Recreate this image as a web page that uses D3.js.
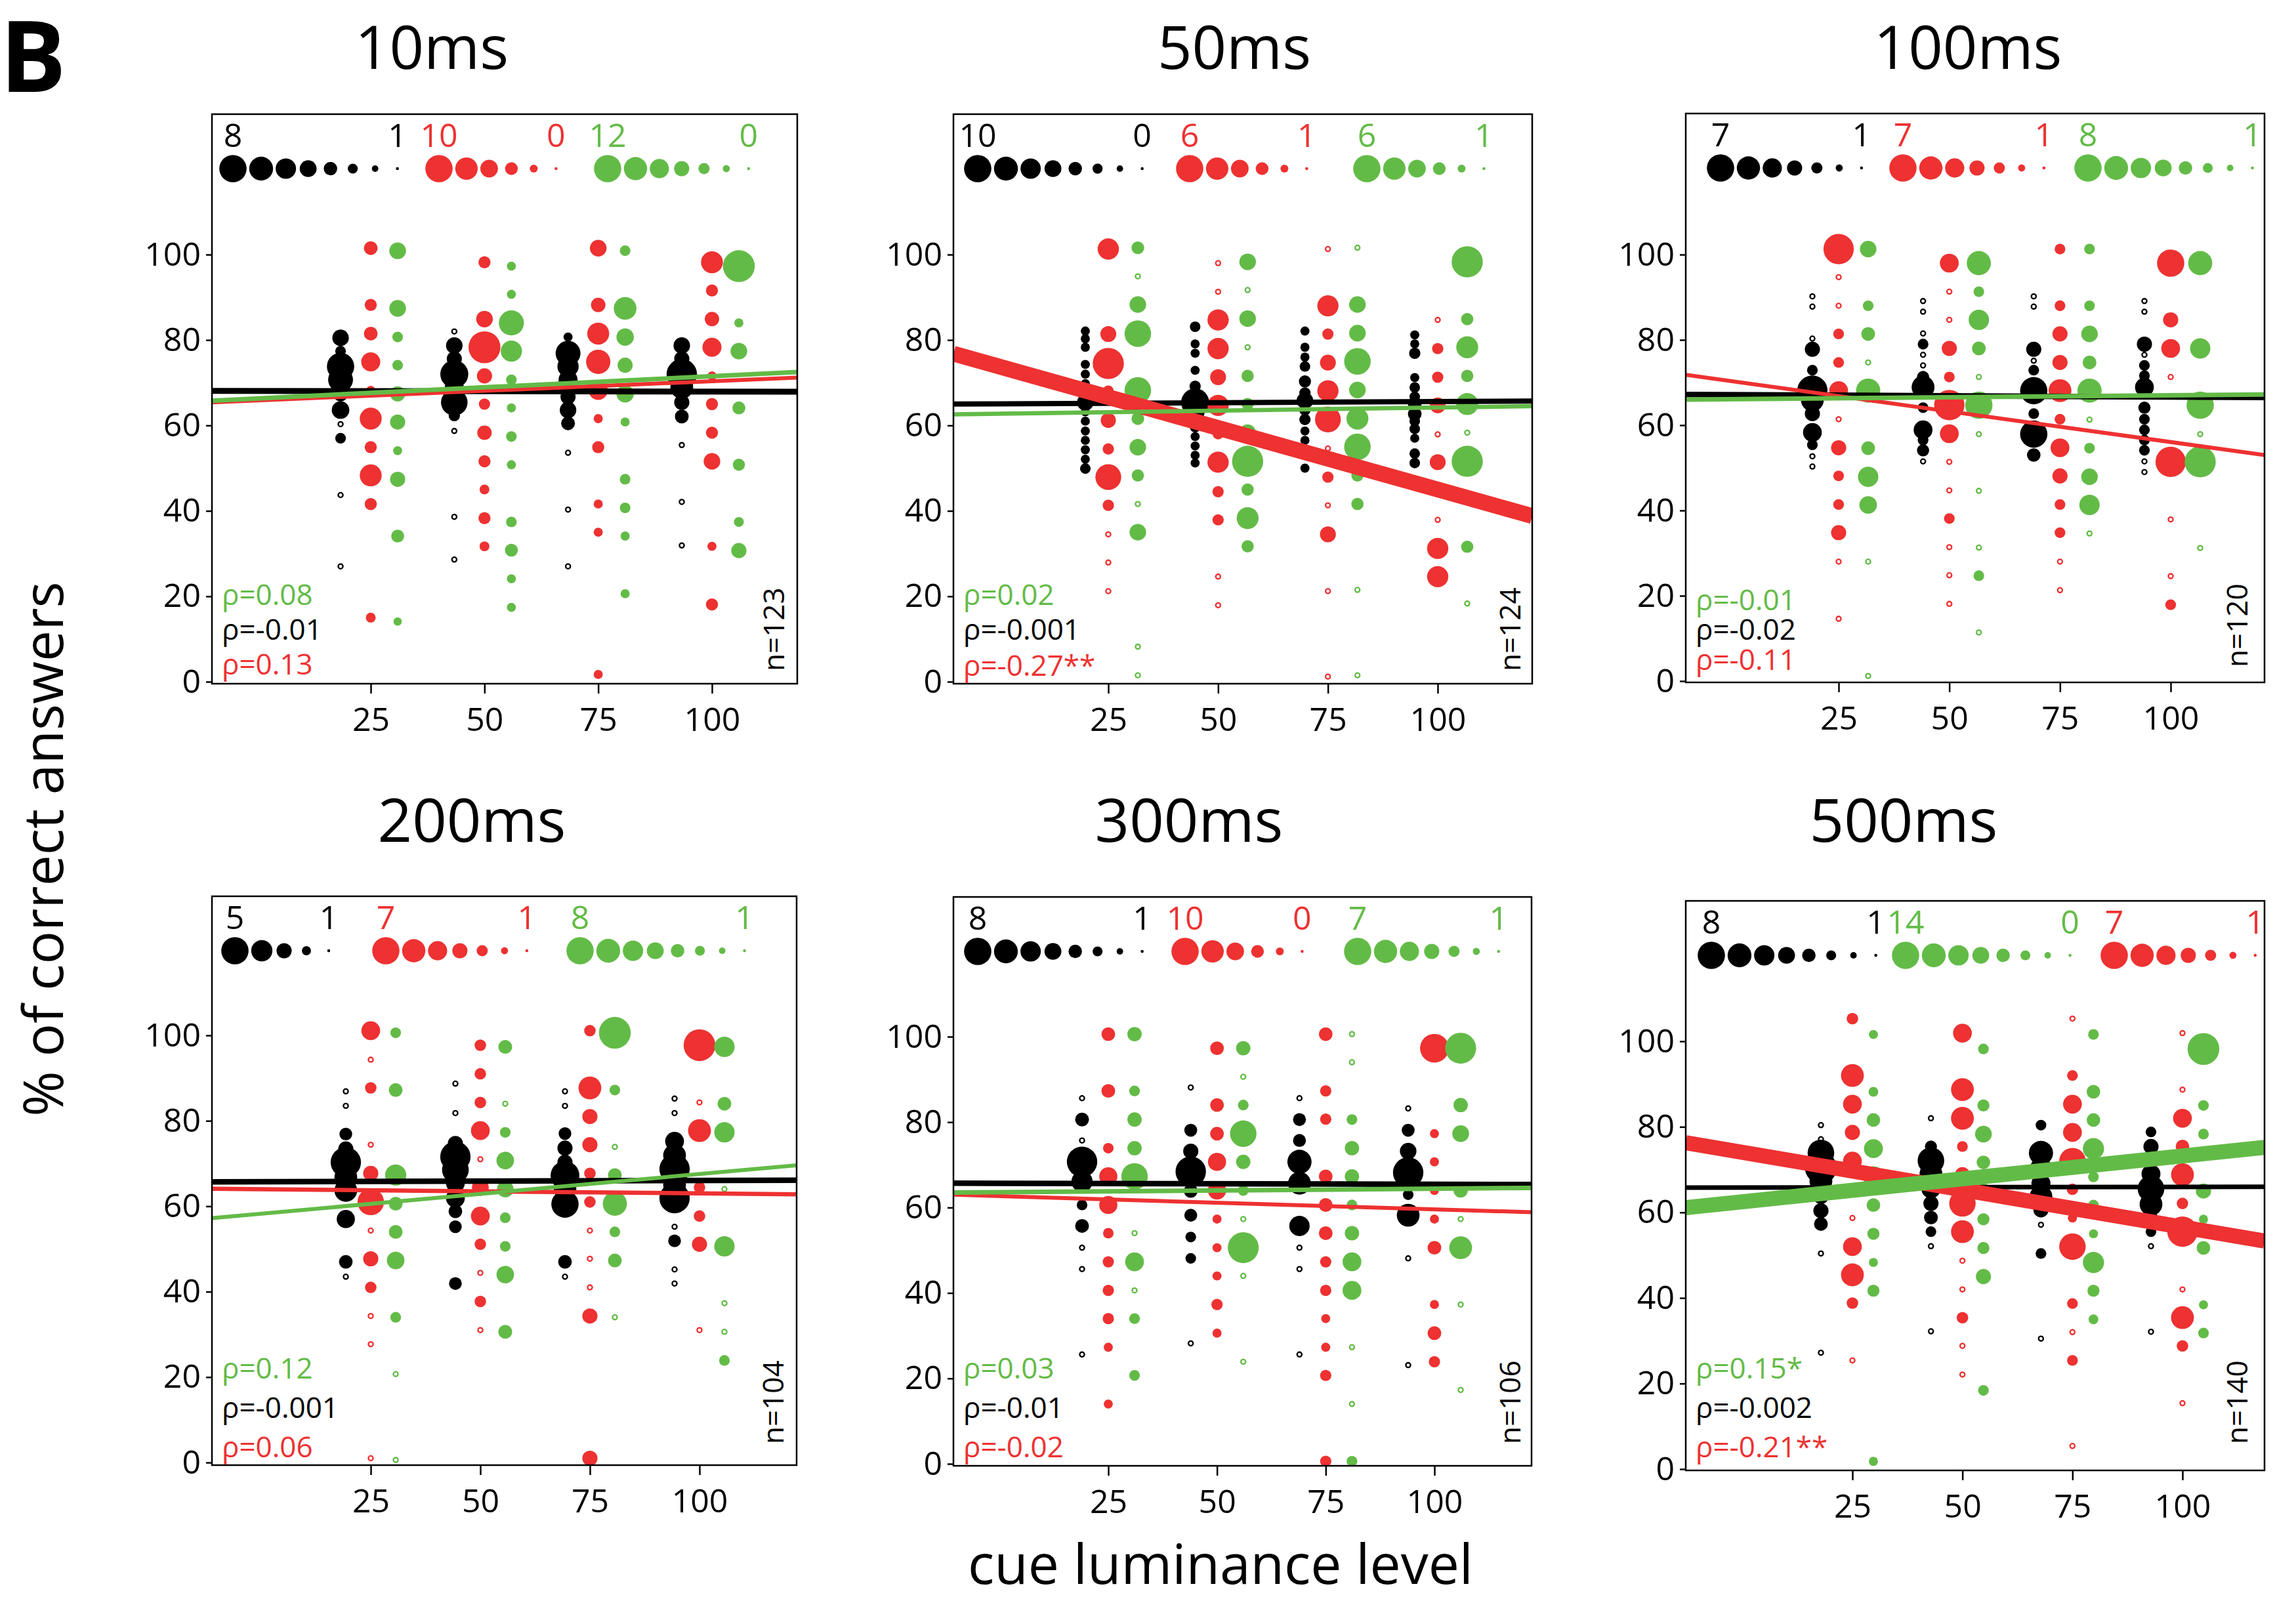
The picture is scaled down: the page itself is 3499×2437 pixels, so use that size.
<!DOCTYPE html>
<html>
<head>
<meta charset="utf-8">
<script src="https://cdn.jsdelivr.net/npm/d3@7"></script>
<style>
  body { margin: 0; background: #fff; }
  svg { display: block; }
  text { font-family: "Open Sans", sans-serif; }
</style>
</head>
<body>
<div id="chart"></div>
<script>
// ---- data ----
const durations = ["10ms", "50ms", "100ms", "200ms", "300ms", "500ms"];
const nSubjects = [123, 124, 120, 104, 106, 140];
const rhoGreen = ["ρ=0.08", "ρ=0.02", "ρ=-0.01", "ρ=0.12", "ρ=0.03", "ρ=0.15*"];
const rhoBlack = ["ρ=-0.01", "ρ=-0.001", "ρ=-0.02", "ρ=-0.001", "ρ=-0.01", "ρ=-0.002"];
const rhoRed = ["ρ=0.13", "ρ=-0.27**", "ρ=-0.11", "ρ=0.06", "ρ=-0.02", "ρ=-0.21**"];

const lumLevels = [25, 50, 75, 100];
const yTicks = [0, 20, 40, 60, 80, 100];

// bubble legends (max -> min)
const legendBlack = [
  [8, 7, 6, 5, 4, 3, 2, 1],
  [10, 8.6, 7.1, 5.7, 4.3, 2.9, 1.4, 0],
  [7, 6, 5, 4, 3, 2, 1],
  [5, 4, 3, 2, 1],
  [8, 7, 6, 5, 4, 3, 2, 1],
  [8, 7, 6, 5, 4, 3, 2, 1]
];
const legendRed = [
  [10, 8, 6, 4, 2, 0],
  [6, 5, 4, 3, 2, 1],
  [7, 6, 5, 4, 3, 2, 1],
  [7, 6, 5, 4, 3, 2, 1],
  [10, 8, 6, 4, 2, 0],
  [7, 6, 5, 4, 3, 2, 1]
];
const legendGreen = [
  [12, 10, 8, 6, 4, 2, 0],
  [6, 5, 4, 3, 2, 1],
  [8, 7, 6, 5, 4, 3, 2, 1],
  [8, 7, 6, 5, 4, 3, 2, 1],
  [7, 6, 5, 4, 3, 2, 1],
  [14, 12, 10, 8, 6, 4, 2, 0]
];

// regression lines: % correct at left and right edge of the box
const lineBlack = [[68.1, 67.9], [65.0, 65.7], [67.2, 66.5], [65.7, 66.1], [65.7, 65.4], [65.8, 66.0]];
const lineRed = [[65.4, 71.2], [76.8, 38.8], [71.8, 53.0], [64.1, 62.8], [63.0, 58.9], [76.3, 53.3]];
const lineGreen = [[65.8, 72.5], [62.6, 64.5], [66.0, 67.2], [57.2, 69.6], [63.5, 64.6], [61.1, 75.2]];

// points: [% correct, size in legend units]; null size = open ring
const blackPts = [
  [
    [[80.5,4.9],[77.4,3.2],[73.8,8],[70.7,7.3],[67.2,4.1],[63.6,5.2],[60.3,null],[57.0,3.2],[43.7,null],[27.0,null]],
    [[82.0,null],[78.7,4.9],[75.6,4.5],[72.0,8.2],[68.9,5.6],[65.4,7.8],[62.3,3.4],[58.7,null],[38.6,null],[28.6,null]],
    [[80.7,2.75],[76.9,7.3],[73.8,6.25],[70.7,5.6],[66.7,4.5],[63.6,4.9],[60.5,4.1],[53.6,null],[40.3,null],[27.0,null]],
    [[78.7,4.9],[75.6,4.5],[72.0,8.9],[68.9,6.7],[65.4,4.5],[62.1,4.1],[55.4,null],[42.1,null],[31.9,null]]
  ],
  [
    [[82.1,2.5],[80.3,2.5],[78.3,2.5],[74.3,2.5],[72.0,2.5],[69.8,2.5],[67.6,2.5],[65.4,5.6],[63.2,2.5],[61.0,2.5],[58.7,2.5],[56.5,2.5],[54.3,2.5],[52.1,2.5],[49.9,3.1]],
    [[83.1,3.1],[79.1,2.5],[76.9,2.5],[72.9,2.5],[69.2,3.4],[65.4,10.3],[63.2,6.6],[59.6,3.1],[57.4,2.5],[55.2,2.5],[53.0,2.5],[51.2,2.5]],
    [[82.1,2.5],[78.3,2.5],[76.0,2.5],[73.8,3.1],[70.3,3.75],[67.6,3.4],[65.8,5.6],[63.6,3.4],[61.4,3.4],[58.7,2.5],[56.5,2.5],[54.3,2.5],[50.0,2.5]],
    [[81.2,2.5],[79.1,2.5],[76.9,3.4],[71.2,2.5],[68.9,3.1],[66.7,3.1],[65.0,4.4],[62.7,4.4],[61.0,3.1],[59.2,3.1],[57.0,2.5],[53.4,3.1],[51.2,3.1]]
  ],
  [
    [[90.2,null],[87.8,null],[80.3,null],[77.8,4],[72.9,2.9],[68.1,7.75],[65.9,5.9],[62.7,4],[58.3,4.9],[55.4,2.9],[52.7,null],[50.3,null]],
    [[89.1,null],[86.6,null],[81.5,null],[79.0,2.9],[76.5,null],[74.0,null],[71.3,3.25],[68.9,5.9],[64.1,2.9],[58.9,4.9],[56.5,2.9],[54.1,3.25],[51.5,null]],
    [[90.2,null],[87.8,null],[77.8,4],[75.1,null],[72.9,2.9],[68.1,7],[62.7,2.9],[57.9,7],[53.0,3.6]],
    [[89.1,null],[86.6,null],[79.0,4],[76.5,null],[74.0,2.9],[71.6,2.9],[68.9,4.9],[64.1,3.25],[61.4,2.9],[58.9,2.9],[56.5,2.9],[54.1,2.9],[51.5,null],[49.0,null]]
  ],
  [
    [[86.9,null],[83.5,null],[76.9,2.6],[73.4,3],[70.3,5.5],[66.8,4.25],[63.7,4.25],[57.0,3.5],[47.0,2.75],[43.5,null]],
    [[88.7,null],[81.8,null],[74.7,3],[71.6,5.5],[68.5,4.9],[65.4,3.6],[61.9,3.6],[58.8,2.75],[55.2,2.6],[41.9,2.6]],
    [[86.9,null],[83.5,null],[77.0,2.6],[73.6,3],[70.3,3],[67.2,5.25],[64.1,4.25],[60.5,5],[47.0,2.75],[43.5,null]],
    [[85.2,null],[81.8,null],[75.2,3.6],[71.9,4.25],[68.7,5.5],[65.0,4.25],[61.9,5.5],[55.2,null],[51.9,2.6],[45.2,null],[41.9,null]]
  ],
  [
    [[85.6,null],[80.6,4.1],[75.7,null],[70.7,8.9],[66.1,6.25],[60.6,3.2],[55.7,4.1],[50.6,null],[45.6,null],[25.6,null]],
    [[88.1,null],[78.1,3.85],[73.2,4.5],[68.4,8.9],[63.9,4.1],[58.2,3.85],[53.1,3.2],[48.1,3.2],[28.2,null]],
    [[85.6,null],[80.6,3.85],[75.7,3.85],[70.7,7.1],[65.7,6.7],[55.7,6],[50.6,null],[45.6,null],[25.6,null]],
    [[83.2,null],[78.1,3.85],[73.2,4.9],[68.2,8.9],[63.0,3.2],[58.2,6.7],[48.1,null],[23.1,null]]
  ],
  [
    [[80.4,null],[77.1,null],[73.9,7.8],[70.4,9.3],[67.3,6.7],[63.7,4.5],[60.4,4.5],[57.3,4.1],[50.4,null],[27.2,null]],
    [[82.0,null],[75.4,3.6],[72.1,7.8],[69.0,6.7],[65.5,5.6],[62.1,4.5],[58.8,4.1],[55.5,3.2],[52.1,null],[32.2,null]],
    [[80.4,3.2],[73.9,7.1],[70.4,6.25],[66.8,5.6],[63.7,6.7],[60.6,4.5],[57.1,null],[50.4,3.2],[30.5,null]],
    [[78.8,3.2],[75.4,4.5],[72.6,4.5],[69.0,5.6],[65.5,7.8],[61.9,6.7],[58.7,4.1],[55.5,3.2],[52.1,null],[32.1,null]]
  ]
];

const redPts = [
  [
    [[101.5,4.4],[88.2,3.75],[81.5,4.4],[74.9,6.6],[68.2,2.5],[61.6,7.8],[54.9,3.75],[48.3,7.8],[41.6,3.75],[15.0,2.8]],
    [[98.2,3.75],[84.9,5.6],[78.3,11.9],[71.6,5],[65.0,3.4],[58.3,4.7],[51.6,3.75],[45.0,2.8],[38.3,3.75],[31.7,2.8]],
    [[101.5,5.6],[88.2,4.7],[81.5,7.8],[74.9,8.75],[68.2,6.6],[61.6,2.5],[54.9,3.75],[41.6,2.5],[35.0,2.5],[1.7,2.5]],
    [[98.2,7.8],[91.6,3.75],[84.9,4.7],[78.3,6.6],[71.6,2.5],[65.0,3.75],[58.3,3.75],[51.6,5.6],[31.7,2.5],[18.1,3.75]]
  ],
  [
    [[101.3,4.75],[81.4,3.65],[74.5,6.8],[68.1,2.6],[61.2,3.5],[54.5,2.7],[47.9,5.7],[41.3,2.7],[34.5,null],[27.9,null],[21.2,null]],
    [[98.0,null],[91.3,null],[84.7,4.75],[78.0,4.75],[71.3,3.65],[64.7,4.75],[58.0,2.6],[51.4,4.75],[44.5,2.7],[37.9,2.7],[24.6,null],[17.9,null]],
    [[101.3,null],[88.0,4.75],[81.4,2.7],[74.7,3.65],[68.1,4.75],[61.4,5.7],[54.6,null],[47.9,2.7],[41.3,null],[34.5,3.65],[21.2,null],[1.2,null]],
    [[84.7,null],[78.0,2.7],[71.3,2.7],[64.7,3.65],[57.9,null],[51.4,3.65],[37.9,null],[31.2,4.75],[24.6,4.75]]
  ],
  [
    [[101.3,7.75],[94.7,null],[88.0,null],[81.4,2.9],[74.7,2.9],[68.1,4.9],[61.4,null],[54.7,4],[48.1,2.9],[41.4,2.9],[34.8,4],[28.0,null],[14.6,null]],
    [[98.0,4.9],[91.3,null],[84.7,null],[78.0,4],[71.3,2.9],[64.7,7.75],[58.0,4.9],[51.4,null],[44.7,null],[38.1,2.9],[31.4,null],[24.8,null],[18.1,null]],
    [[101.3,2.9],[88.0,2.9],[81.4,4],[74.7,4],[68.1,5.9],[61.4,2.9],[54.7,4.9],[48.1,4],[41.4,2.9],[34.8,2.9],[28.0,null],[21.3,null]],
    [[98.0,7],[84.7,4],[78.0,4.9],[71.3,null],[51.4,7.75],[37.9,null],[24.6,null],[17.9,2.9]]
  ],
  [
    [[101.1,4.9],[94.3,null],[87.7,3.1],[74.4,null],[67.7,4],[61.0,6.8],[54.3,null],[47.7,4],[41.0,3.1],[34.3,null],[27.7,null],[1.0,null]],
    [[97.7,3.1],[91.0,3.1],[84.3,3.1],[77.7,4.9],[71.0,null],[64.4,4.4],[57.7,4.9],[51.1,3.1],[44.4,null],[37.7,3.1],[31.0,null]],
    [[101.1,3.1],[87.7,5.9],[81.0,4],[74.4,4],[67.7,3.1],[61.0,3.1],[54.3,null],[47.7,null],[41.0,null],[34.3,4],[1.0,4]],
    [[97.7,8.1],[84.3,null],[77.7,5.9],[64.4,3.1],[57.7,3.1],[51.1,4],[31.0,null]]
  ],
  [
    [[100.6,4.4],[87.3,4.4],[73.9,3.1],[67.3,6.25],[60.6,6.25],[54.0,3.1],[47.3,3.4],[40.6,3.4],[34.0,3.4],[27.3,2.5],[14.0,2.5]],
    [[97.3,4.4],[84.0,4.4],[77.3,4.4],[70.7,6.25],[64.0,6.25],[57.3,2.5],[50.6,2.5],[44.0,2.5],[37.3,3.4],[30.6,2.5]],
    [[100.6,4.4],[87.3,3.4],[80.7,3.4],[67.3,4.4],[60.6,4.4],[54.0,4.4],[47.3,3.4],[40.6,3.4],[34.0,2.5],[27.3,2.5],[20.7,3.4],[0.6,3.4]],
    [[97.3,10.6],[77.3,2.5],[70.7,2.5],[64.0,2.5],[57.3,2.5],[50.6,4.4],[37.3,2.5],[30.6,4.4],[23.9,3.4]]
  ],
  [
    [[105.3,3.1],[92.0,5.9],[85.3,4.9],[78.7,4],[72.0,4.9],[65.4,2.9],[58.7,null],[52.0,4.9],[45.4,5.9],[38.8,3.1],[25.4,null]],
    [[101.9,4.9],[88.7,5.9],[82.0,5.9],[75.4,2.9],[68.8,4],[62.1,6.8],[55.5,5.9],[48.7,null],[42.0,null],[35.4,3.1],[28.8,null],[22.1,null]],
    [[105.3,null],[92.0,2.9],[85.3,4.9],[78.7,4.9],[72.0,6.8],[65.4,3.1],[58.7,2.5],[52.0,6.8],[38.7,2.9],[32.0,null],[25.4,2.9],[5.4,null]],
    [[101.9,null],[88.7,null],[82.0,4.9],[75.4,3.6],[68.8,5.9],[62.1,3.1],[55.5,7.75],[42.0,null],[35.4,5.9],[28.8,3.1],[15.4,null]]
  ]
];

const greenPts = [
  [
    [[100.9,6.75],[87.4,6.75],[80.7,3.75],[74.1,3.75],[67.4,6],[60.8,6],[54.1,3],[47.4,6],[34.1,4.9],[14.1,2.6]],
    [[97.3,3],[90.7,3],[84.0,10.9],[77.4,9],[70.7,3.75],[64.1,3],[57.4,3.75],[50.8,3],[37.4,3.75],[30.8,4.9],[24.1,3],[17.4,3]],
    [[100.9,3.75],[87.4,9.75],[80.7,7.1],[74.1,6],[67.4,7.1],[60.8,3],[47.4,3.75],[40.7,3.75],[34.1,3],[20.6,3]],
    [[97.3,14.25],[84.0,3],[77.4,6.75],[64.1,4.9],[50.8,4.5],[37.4,3.4],[30.7,6]]
  ],
  [
    [[101.6,3],[94.9,null],[88.3,3.8],[81.5,5.85],[68.2,5.85],[61.6,3],[54.9,3.8],[48.3,2.9],[41.6,null],[35.0,3.8],[8.2,null],[1.5,null]],
    [[98.3,3.8],[91.7,null],[85.0,3.8],[78.3,null],[71.6,2.9],[65.0,2.9],[58.3,3.8],[51.6,6.8],[45.0,2.9],[38.3,4.9],[31.7,2.9]],
    [[101.6,null],[88.3,3.8],[81.6,3.8],[75.0,5.85],[68.3,3.8],[61.6,4.9],[55.0,5.85],[48.3,2.9],[41.6,2.9],[21.5,null],[1.5,null]],
    [[98.3,6.8],[84.9,2.9],[78.3,4.9],[71.6,2.9],[65.0,4.9],[58.3,null],[51.6,6.8],[31.6,2.9],[18.3,null]]
  ],
  [
    [[101.3,4.9],[88.0,3.2],[81.4,4.1],[74.7,null],[68.1,7.1],[54.6,4.1],[47.9,6],[41.3,5.2],[28.0,null],[1.2,null]],
    [[98.0,7.1],[91.3,3.2],[84.7,6],[78.0,4.1],[71.3,null],[64.7,8],[57.9,null],[44.6,null],[31.3,null],[24.7,3.2],[11.4,null]],
    [[101.3,3.2],[88.0,3.2],[81.4,4.9],[74.7,4.1],[68.1,7.1],[61.3,null],[54.6,3.2],[47.9,4.9],[41.3,6],[34.6,null]],
    [[98.0,7.1],[78.0,6],[64.7,8],[57.9,null],[51.4,9.1],[31.2,null]]
  ],
  [
    [[100.6,3.2],[87.2,4.1],[67.3,6.25],[60.6,4.1],[54.0,4.1],[47.3,5.2],[34.0,3.2],[20.7,null],[0.6,null]],
    [[97.3,4.1],[84.0,null],[77.3,3.2],[70.7,5.2],[64.0,4.9],[57.3,3.2],[50.6,3.2],[44.0,5.2],[30.6,4.1]],
    [[100.6,9.3],[87.2,3.2],[73.9,null],[67.3,4.1],[60.6,7.1],[54.0,3.2],[47.3,4.1],[34.0,null]],
    [[97.3,6],[84.0,4.1],[77.3,6],[64.0,null],[50.6,6],[37.3,null],[30.6,null],[23.9,3.2]]
  ],
  [
    [[100.6,3.8],[87.3,2.9],[80.6,3.8],[73.9,3.8],[67.3,6.8],[54.0,null],[47.3,4.9],[40.6,null],[34.0,2.9],[20.7,2.9]],
    [[97.3,3.8],[90.6,null],[84.0,2.9],[77.3,6.8],[70.7,3.8],[64.0,2.9],[57.3,null],[50.6,7.9],[44.0,null],[23.9,null]],
    [[100.6,null],[94.0,null],[80.6,2.9],[73.9,3.8],[67.3,3.8],[60.6,2.9],[54.0,3.8],[47.3,4.9],[40.6,4.9],[27.3,null],[14.0,null],[0.6,2.9]],
    [[97.3,7.9],[84.0,3.8],[77.3,4.4],[64.0,3.8],[57.3,null],[50.6,5.9],[37.3,null],[17.3,null]]
  ],
  [
    [[101.6,3.5],[88.2,3.9],[81.6,6.1],[74.9,9.2],[68.3,10.5],[61.7,6.1],[55.0,5.25],[48.3,3.5],[41.7,5.25],[1.8,3.5]],
    [[98.2,4.4],[85.0,5.25],[78.3,7.9],[71.7,6.1],[65.0,7],[58.4,5.25],[51.7,5.25],[45.0,7],[18.4,4.4]],
    [[101.6,4.4],[88.2,6.1],[81.6,6.1],[74.9,10.5],[68.3,4.4],[61.7,4.4],[55.0,3.5],[48.3,10.5],[41.7,5.25],[35.0,3.9]],
    [[98.2,16.6],[85.0,4.4],[78.3,4.4],[65.0,7],[58.4,3.5],[51.7,6.1],[38.4,3.5],[31.8,4.4]]
  ]
];

// ---- layout (pixels) ----
const W = 3499, H = 2437;
const colors = { black: "#000000", red: "#ee3131", green: "#63bb47" };

const panels = [
  { box: [323, 174, 1215, 1042], y0: 1039, y100: 388, x25: 565, x100: 1085, off: { black: -46, red: 0, green: 41 },
    lw: { black: 9, red: 6, green: 7 }, order: ["black", "red", "green"], legX: [32, 346, 603],
    title: [658, 105], rhoY: [922, 975, 1028], nPos: [1195, 1023] },
  { box: [1453, 174, 2335, 1042], y0: 1039, y100: 388, x25: 1689, x100: 2191, off: { black: -35, red: 0, green: 45 },
    lw: { black: 8, red: 24, green: 6.5 }, order: ["black", "red", "green"], legX: [37, 360, 630],
    title: [1881, 105], rhoY: [922, 975, 1030], nPos: [2317, 1023] },
  { box: [2569, 173, 3451, 1040], y0: 1038, y100: 388, x25: 2802, x100: 3308, off: { black: -40, red: 0, green: 45 },
    lw: { black: 8.5, red: 6, green: 7 }, order: ["black", "red", "green"], legX: [53, 331, 613],
    title: [2999, 105], rhoY: [930, 975, 1021], nPos: [3425, 1017] },
  { box: [323, 1366, 1214, 2233], y0: 2229, y100: 1578, x25: 565, x100: 1066, off: { black: -38, red: 0, green: 38 },
    lw: { black: 8.5, red: 6.5, green: 6 }, order: ["black", "red", "green"], legX: [35, 265, 561],
    title: [719, 1283], rhoY: [2101, 2161, 2221], nPos: [1194, 2201] },
  { box: [1453, 1367, 2334, 2234], y0: 2231, y100: 1580, x25: 1689, x100: 2186, off: { black: -40, red: 0, green: 40 },
    lw: { black: 8.5, red: 6, green: 7 }, order: ["black", "red", "green"], legX: [37, 353, 616],
    title: [1812, 1283], rhoY: [2101, 2161, 2221], nPos: [2317, 2201] },
  { box: [2569, 1373, 3451, 2241], y0: 2239, y100: 1587, x25: 2823, x100: 3326, off: { black: -48, red: 0, green: 32 },
    lw: { black: 7, red: 23, green: 23 }, order: ["black", "green", "red"], legX: [39, 335, 653],
    title: [2901, 1283], rhoY: [2101, 2161, 2221], nPos: [3425, 2201] }
];

const legends = { black: legendBlack, red: legendRed, green: legendGreen };
const points = { black: blackPts, red: redPts, green: greenPts };
const lines = { black: lineBlack, red: lineRed, green: lineGreen };

const svg = d3.select("#chart").append("svg")
  .attr("width", W)
  .attr("height", H)
  .style("background", "#fff");

panels.forEach((p, i) => {
  const [left, top, right, bottom] = p.box;
  const g = svg.append("g");

  const x = d3.scaleLinear().domain([25, 100]).range([p.x25, p.x100]);
  const y = d3.scaleLinear().domain([0, 100]).range([p.y0, p.y100]);
  const size = c => d3.scaleLinear().domain(d3.extent(legends[c][i])).range([2.3, 20.8]);

  const clipId = "clip" + i;
  svg.append("clipPath").attr("id", clipId)
    .append("rect")
    .attr("x", left).attr("y", top)
    .attr("width", right - left).attr("height", bottom - top);

  // axes
  const yAxis = g.append("g")
    .attr("transform", `translate(${left},0)`)
    .call(d3.axisLeft(y).tickValues(yTicks).tickSize(9).tickPadding(8));
  const xAxis = g.append("g")
    .attr("transform", `translate(0,${bottom})`)
    .call(d3.axisBottom(x).tickValues(lumLevels).tickSize(15).tickPadding(21));
  [yAxis, xAxis].forEach(a => {
    a.select(".domain").remove();
    a.selectAll("line").attr("stroke", "#000").attr("stroke-width", 2.5);
    a.selectAll("text")
      .attr("fill", "#000")
      .style("font-family", '"Open Sans", sans-serif')
      .style("font-size", "50px");
  });

  // bubbles
  ["black", "red", "green"].forEach(c => {
    const r = size(c);
    const flat = points[c][i].flatMap((col, j) =>
      col.map(d => ({ lum: lumLevels[j], v: d[0], s: d[1] })));
    g.append("g")
      .attr("clip-path", `url(#${clipId})`)
      .selectAll("circle")
      .data(flat)
      .join("circle")
      .attr("cx", d => x(d.lum) + p.off[c])
      .attr("cy", d => y(d.v))
      .attr("r", d => d.s == null ? 3.6 : r(d.s))
      .attr("fill", d => d.s == null ? "#fff" : colors[c])
      .attr("stroke", d => d.s == null ? colors[c] : "none")
      .attr("stroke-width", 2.3);
  });

  // regression lines
  ["black", "red", "green"].forEach(c => {
    const L = lines[c][i];
    g.append("line")
      .attr("clip-path", `url(#${clipId})`)
      .attr("x1", left).attr("x2", right)
      .attr("y1", y(L[0])).attr("y2", y(L[1]))
      .attr("stroke", colors[c])
      .attr("stroke-width", p.lw[c]);
  });

  // frame
  g.append("rect")
    .attr("x", left).attr("y", top)
    .attr("width", right - left).attr("height", bottom - top)
    .attr("fill", "none")
    .attr("stroke", "#000")
    .attr("stroke-width", 2.5);

  // size legends
  p.order.forEach((c, k) => {
    const vals = legends[c][i];
    const r = size(c);
    const xs = [];
    let cx = left + p.legX[k];
    vals.forEach((v, m) => {
      if (m > 0) cx += Math.max(34, r(vals[m - 1]) + r(v) + 4);
      xs.push(cx);
    });
    g.append("g").selectAll("circle")
      .data(vals)
      .join("circle")
      .attr("cx", (d, m) => xs[m])
      .attr("cy", top + 83)
      .attr("r", d => r(d))
      .attr("fill", colors[c]);
    [0, vals.length - 1].forEach(m => {
      g.append("text")
        .attr("x", xs[m])
        .attr("y", top + 50)
        .attr("text-anchor", "middle")
        .attr("fill", colors[c])
        .style("font-size", "50px")
        .text(vals[m]);
    });
  });

  // correlation labels
  [[rhoGreen, "green"], [rhoBlack, "black"], [rhoRed, "red"]].forEach(([arr, c], k) => {
    g.append("text")
      .attr("x", left + 15)
      .attr("y", p.rhoY[k])
      .attr("fill", colors[c])
      .style("font-size", "44px")
      .text(arr[i]);
  });

  g.append("text")
    .attr("transform", `translate(${p.nPos[0]},${p.nPos[1]}) rotate(-90)`)
    .attr("fill", "#000")
    .style("font-size", "44px")
    .text("n=" + nSubjects[i]);

  // panel title
  svg.append("text")
    .attr("x", p.title[0])
    .attr("y", p.title[1])
    .attr("text-anchor", "middle")
    .style("font-size", "92px")
    .text(durations[i]);
});

svg.append("text")
  .attr("x", 0).attr("y", 140)
  .style("font-size", "150px")
  .style("font-weight", "bold")
  .text("B");

svg.append("text")
  .attr("transform", "translate(96,1294) rotate(-90)")
  .attr("text-anchor", "middle")
  .style("font-size", "84px")
  .text("% of correct answers");

svg.append("text")
  .attr("x", 1860).attr("y", 2414)
  .attr("text-anchor", "middle")
  .style("font-size", "84px")
  .text("cue luminance level");
</script>
</body>
</html>
